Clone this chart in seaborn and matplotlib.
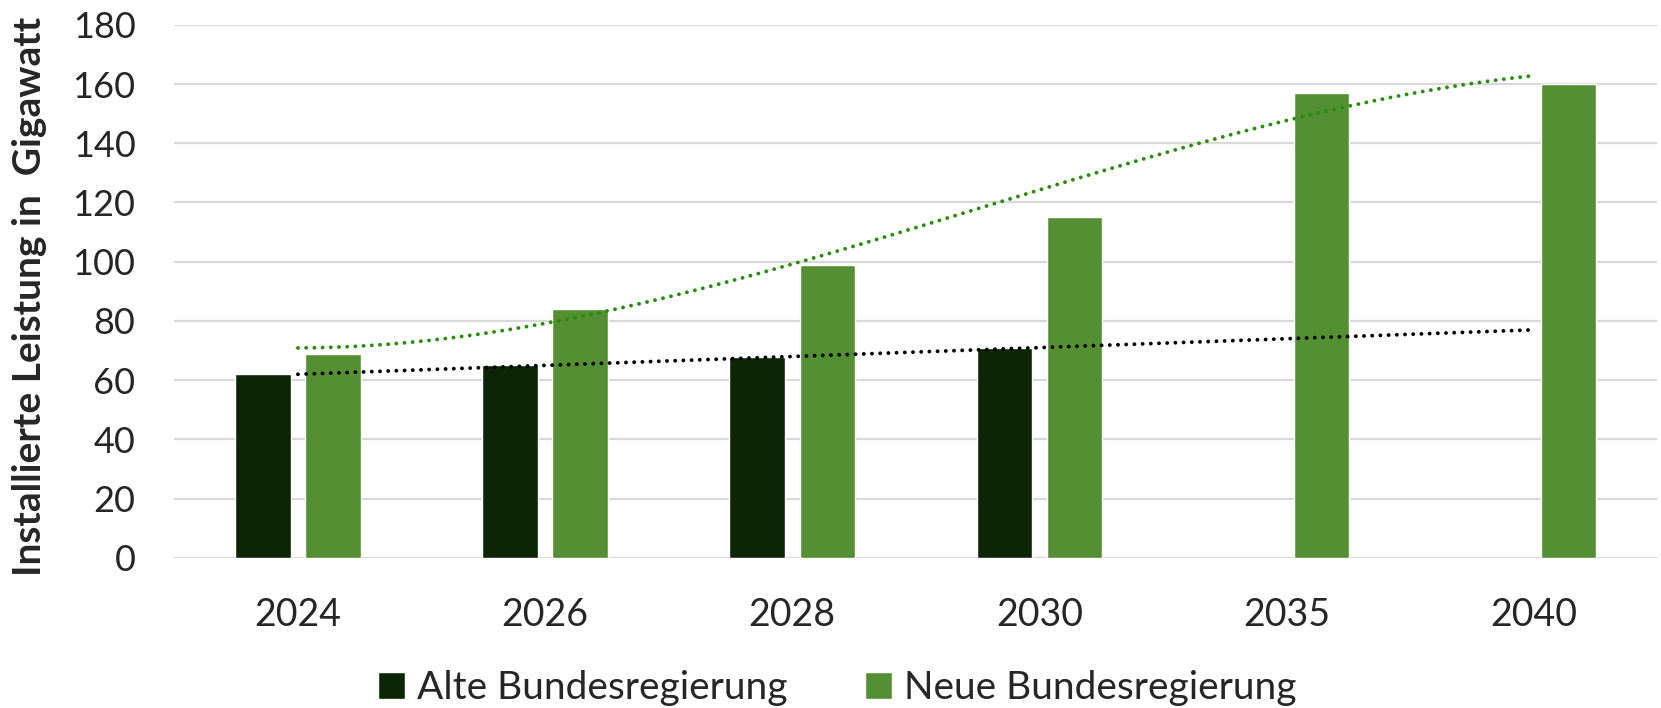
import numpy as np
import pandas as pd
import matplotlib
matplotlib.use('Agg')
import matplotlib.pyplot as plt
import seaborn as sns

# Chart data
years = ['2024', '2026', '2028', '2030', '2035', '2040']
alte = [62, 65, 68, 71, np.nan, np.nan]   # Alte Bundesregierung (no values after 2030)
neue = [69, 84, 99, 115, 157, 160]        # Neue Bundesregierung
y_ticks = [0, 20, 40, 60, 80, 100, 120, 140, 160, 180]

col_alte = '#0C2605'
col_neue = '#548F33'
col_trend_green = '#2A8C0C'
col_trend_black = '#000000'

sns.set_style('white')
plt.rcParams['font.family'] = ['Lato', 'DejaVu Sans']

df = pd.DataFrame({
    'Jahr': years * 2,
    'Wert': alte + neue,
    'Gruppe': ['Alte Bundesregierung'] * len(years) + ['Neue Bundesregierung'] * len(years),
})

fig = plt.figure(figsize=(16.61, 7.08), dpi=100)
ax = fig.add_axes([0.105, 0.212, 0.8926, 0.753])

sns.barplot(data=df, x='Jahr', y='Wert', hue='Gruppe', order=years,
            palette=[col_alte, col_neue], width=0.567, gap=0.21,
            saturation=1, ax=ax, zorder=2)

# Trendlines like in Excel: linear for the old plan, 3rd order polynomial for the new one
x_idx = np.arange(len(years))
mask = ~np.isnan(np.array(alte))
lin = np.polyfit(x_idx[mask], np.array(alte)[mask], 1)
poly = np.polyfit(x_idx, neue, 3)
xs = np.linspace(0, len(years) - 1, 200)
ax.plot(xs, np.polyval(lin, xs), color=col_trend_black, lw=2.8,
        ls=(0, (0.01, 2.1)), dash_capstyle='round', zorder=3)
ax.plot(xs, np.polyval(poly, xs), color=col_trend_green, lw=2.8,
        ls=(0, (0.01, 2.1)), dash_capstyle='round', zorder=3)

ax.set_xlim(-0.5, len(years) - 0.5)
ax.set_ylim(0, 180)
ax.set_yticks(y_ticks)
ax.yaxis.grid(True, color='#D9D9D9', lw=1.6, zorder=0)
ax.set_axisbelow(True)
for s in ax.spines.values():
    s.set_visible(False)
ax.tick_params(axis='y', length=0, pad=28, labelsize=26)
ax.tick_params(axis='x', length=0, pad=28, labelsize=27)
ax.set_xlabel('')
ax.set_ylabel('Installierte Leistung in  Gigawatt', fontsize=28, fontweight='bold')
ax.yaxis.set_label_coords(-0.086, 0.49)

ax.legend(loc='center', bbox_to_anchor=(0.447, -0.244), ncol=2, frameon=False,
          fontsize=28, handlelength=0.7, handleheight=0.7, handletextpad=0.3,
          columnspacing=2.0)

fig.savefig('out.png', dpi=100)
